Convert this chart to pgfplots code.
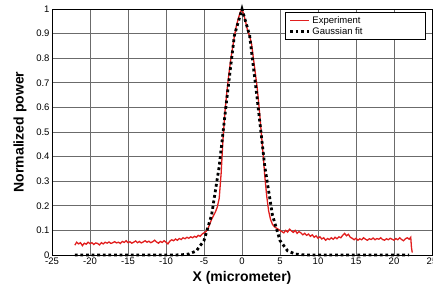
\documentclass[border=0pt]{standalone}
\usepackage{fontspec}
\setmainfont{Liberation Sans}
\usepackage{pgfplots}
\pgfplotsset{compat=1.18}
\begin{document}
\begin{tikzpicture}
\useasboundingbox (0,0) rectangle (433bp,290bp);
\begin{axis}[
  at={(52bp,35bp)}, anchor=south west,
  width=380bp, height=246bp, scale only axis,
  xmin=-25, xmax=25, ymin=0, ymax=1,
  xtick={-25,-20,...,25},
  ytick={0,0.1,...,1.01},
  yticklabel style={/pgf/number format/fixed, xshift=1bp},
  xticklabel style={yshift=1bp},
  /pgf/number format/assume math mode=true,
  ticklabel style={font=\fontsize{9.5bp}{11bp}\selectfont},
  grid=major,
  major grid style={black!58, line width=0.7bp},
  major tick length=0pt,
  axis line style={black, line width=0.9bp},
  xlabel={\bfseries X (micrometer)},
  ylabel={\bfseries Normalized power},
  label style={font=\fontsize{14bp}{16bp}\selectfont},
  xlabel style={at={(axis description cs:0.5,-0.093)}, anchor=center},
  ylabel style={at={(axis description cs:-0.084,0.5)}, anchor=center, rotate=0},
  legend style={at={(0.984,0.986)}, anchor=north east, draw=black, line width=0.9bp,
    font=\fontsize{9.5bp}{10bp}\selectfont, inner xsep=3bp, inner ysep=1.5bp, row sep=-1.5bp, cells={anchor=west}},
  legend image code/.code={\draw[#1] (0bp,0bp) -- (19bp,0bp);},
  legend cell align=left,
  clip=false,
]
\addplot[color={rgb,255:red,225;green,30;blue,30}, line width=1.3bp] coordinates {
(-22.00,0.040)(-21.75,0.052)(-21.50,0.045)(-21.25,0.050)(-21.00,0.038)(-20.75,0.048)
(-20.50,0.044)(-20.25,0.052)(-20.00,0.046)(-19.75,0.050)(-19.50,0.043)(-19.25,0.049)
(-19.00,0.047)(-18.75,0.041)(-18.50,0.050)(-18.25,0.045)(-18.00,0.052)(-17.75,0.048)
(-17.50,0.053)(-17.25,0.047)(-17.00,0.050)(-16.75,0.054)(-16.50,0.049)(-16.25,0.052)
(-16.00,0.047)(-15.75,0.055)(-15.50,0.051)(-15.25,0.058)(-15.00,0.050)(-14.75,0.054)
(-14.50,0.048)(-14.25,0.052)(-14.00,0.057)(-13.75,0.050)(-13.50,0.055)(-13.25,0.049)
(-13.00,0.053)(-12.75,0.058)(-12.50,0.052)(-12.25,0.056)(-12.00,0.050)(-11.75,0.054)
(-11.50,0.060)(-11.25,0.053)(-11.00,0.048)(-10.75,0.055)(-10.50,0.051)(-10.25,0.058)
(-10.00,0.052)(-9.75,0.045)(-9.50,0.056)(-9.25,0.062)(-9.00,0.058)(-8.75,0.065)
(-8.50,0.060)(-8.25,0.067)(-8.00,0.063)(-7.75,0.070)(-7.50,0.066)(-7.25,0.072)
(-7.00,0.068)(-6.75,0.074)(-6.50,0.070)(-6.25,0.076)(-6.00,0.072)(-5.75,0.080)
(-5.50,0.076)(-5.25,0.085)(-5.00,0.090)(-4.75,0.095)(-4.50,0.105)(-4.25,0.125)
(-4.00,0.145)(-3.75,0.160)(-3.50,0.175)(-3.25,0.195)(-3.00,0.230)(-2.75,0.330)
(-2.50,0.470)(-2.25,0.580)(-2.00,0.660)(-1.75,0.730)(-1.50,0.790)(-1.25,0.840)
(-1.00,0.890)(-0.75,0.930)(-0.50,0.960)(-0.25,0.985)(0.00,1.000)(0.25,0.975)
(0.50,0.945)(0.75,0.910)(1.00,0.890)(1.25,0.860)(1.50,0.800)(1.75,0.740)
(2.00,0.680)(2.25,0.600)(2.50,0.510)(2.75,0.420)(3.00,0.320)(3.25,0.240)
(3.50,0.180)(3.75,0.145)(4.00,0.125)(4.25,0.115)(4.50,0.110)(4.75,0.105)
(5.00,0.100)(5.25,0.095)(5.50,0.090)(5.75,0.100)(6.00,0.093)(6.25,0.105)
(6.50,0.098)(6.75,0.092)(7.00,0.100)(7.25,0.088)(7.50,0.095)(7.75,0.090)
(8.00,0.082)(8.25,0.088)(8.50,0.080)(8.75,0.085)(9.00,0.076)(9.25,0.082)
(9.50,0.072)(9.75,0.078)(10.00,0.068)(10.25,0.074)(10.50,0.065)(10.75,0.070)
(11.00,0.060)(11.25,0.067)(11.50,0.063)(11.75,0.070)(12.00,0.064)(12.25,0.072)
(12.50,0.066)(12.75,0.074)(13.00,0.070)(13.25,0.080)(13.50,0.088)(13.75,0.078)
(14.00,0.084)(14.25,0.072)(14.50,0.068)(14.75,0.062)(15.00,0.068)(15.25,0.060)
(15.50,0.066)(15.75,0.062)(16.00,0.070)(16.25,0.064)(16.50,0.060)(16.75,0.066)
(17.00,0.063)(17.25,0.069)(17.50,0.062)(17.75,0.067)(18.00,0.064)(18.25,0.070)
(18.50,0.063)(18.75,0.060)(19.00,0.066)(19.25,0.062)(19.50,0.068)(19.75,0.064)
(20.00,0.060)(20.25,0.067)(20.50,0.062)(20.75,0.070)(21.00,0.063)(21.25,0.058)
(21.50,0.066)(21.75,0.070)(22.00,0.064)(22.20,0.072)(22.30,0.030)(22.40,0.010)
};
\addlegendentry{\makebox[108bp][l]{Experiment}}
\addplot[black, line width=2.8bp, dash pattern=on 2.8bp off 2.8bp] coordinates {
(-22,0)(-21,0)(-20,0)(-19,0)(-18,0)(-17,0)(-16,0)(-15,0)(-14,0)(-13,0)(-12,0)
(-11,0)(-10,0)(-9,0.0001)(-8,0.0007)(-7,0.0039)(-6,0.0169)(-5,0.0588)(-4,0.163)
(-3,0.360)(-2,0.635)(-1,0.893)(0,1)(1,0.893)(2,0.635)(3,0.360)(4,0.163)
(5,0.0588)(6,0.0169)(7,0.0039)(8,0.0007)(9,0.0001)(10,0)(11,0)(12,0)(13,0)
(14,0)(15,0)(16,0)(17,0)(18,0)(19,0)(20,0)(21,0)(22,0)
};
\addlegendentry{Gaussian fit}
\end{axis}
\end{tikzpicture}
\end{document}
